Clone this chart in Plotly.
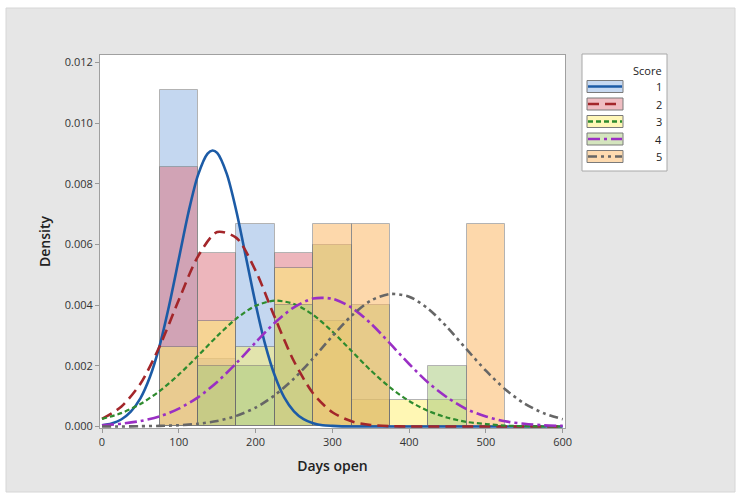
import plotly.graph_objects as go

# ---------------- data ----------------
scores = ["1", "2", "3", "4", "5"]
bin_centers = [100, 150, 200, 250, 300, 350, 400, 450, 500]
bin_width = 50

dens_1 = [0.01111, 0.00222, 0.00667, 0, 0, 0, 0, 0, 0]
dens_2 = [0.00857, 0.00571, 0, 0.00571, 0, 0, 0, 0, 0]
dens_3 = [0.00261, 0.00348, 0.00261, 0.00522, 0.00348, 0.00087, 0.00087, 0.00087, 0]
dens_4 = [0, 0.0020, 0.0020, 0.0040, 0.0060, 0.0040, 0, 0.0020, 0]
dens_5 = [0, 0, 0, 0, 0.00667, 0.00667, 0, 0, 0.00667]

curve_x_1 = [0, 12.5, 25, 37.5, 50, 62.5, 75, 87.5, 100, 112.5, 125, 137.5, 144, 150,
             162.5, 175, 187.5, 200, 212.5, 225, 237.5, 250, 262.5, 275, 287.5, 300,
             325, 400, 500, 600]
curve_1 = [0.00004, 0.0001, 0.00023, 0.00049, 0.00093, 0.00164, 0.00266, 0.0040, 0.00552,
           0.00705, 0.00829, 0.0090, 0.0091, 0.00902, 0.00833, 0.0071, 0.00558, 0.00405,
           0.00271, 0.00168, 0.00095, 0.0005, 0.00024, 0.00011, 0.00004, 0.00002,
           0, 0, 0, 0]

curve_x = [0, 25, 50, 75, 100, 125, 150, 175, 200, 225, 250, 275, 300, 325, 350,
           375, 400, 425, 450, 475, 500, 525, 550, 575, 600]
curve_2 = [0.00025, 0.00065, 0.00141, 0.00264, 0.00417, 0.00561, 0.00641, 0.00622, 0.00514,
           0.0036, 0.00215, 0.00109, 0.00047, 0.00017, 0.00005, 0.00001, 0, 0, 0, 0, 0, 0, 0, 0, 0]
curve_3 = [0.00025, 0.00044, 0.00074, 0.00117, 0.00171, 0.00233, 0.00298, 0.00356, 0.00398,
           0.00415, 0.00404, 0.00368, 0.00313, 0.00249, 0.00185, 0.00129, 0.00084, 0.00051,
           0.00029, 0.00015, 0.00008, 0.00003, 0.00001, 0, 0]
curve_4 = [0.00004, 0.00009, 0.00018, 0.00033, 0.00059, 0.00096, 0.00147, 0.00209, 0.00277,
           0.00342, 0.00393, 0.00422, 0.00421, 0.00392, 0.0034, 0.00274, 0.00206, 0.00144,
           0.00095, 0.00057, 0.00033, 0.00017, 0.00009, 0.00004, 0.00002]
curve_5 = [0, 0, 0.00001, 0.00002, 0.00004, 0.00009, 0.00018, 0.00035, 0.00062, 0.00103,
           0.00158, 0.00225, 0.00298, 0.00365, 0.00415, 0.00437, 0.00428, 0.00388, 0.00326,
           0.00254, 0.00184, 0.00123, 0.00076, 0.00044, 0.00024]

x_ticks = [0, 100, 200, 300, 400, 500, 600]
y_ticks = [0.000, 0.002, 0.004, 0.006, 0.008, 0.010, 0.012]
y_tick_text = ["0.000", "0.002", "0.004", "0.006", "0.008", "0.010", "0.012"]

# ---------------- styles ----------------
fill_colors = ["#8fb4e3", "#dd7480", "#fff070", "#a9cb7d", "#fcb660"]
legend_fill = ["#c7d9f1", "#efbdc2", "#fff7b7", "#d4e5be", "#fddaaf"]
line_colors = ["#1c5ba6", "#a3262a", "#2e8b2e", "#9a2fc4", "#666666"]
line_dash = ["solid", "11px,6px", "5px,3px", "12px,4px,3px,4px", "9px,4px,3px,4px,3px,4px"]
line_width = [2.6, 2.6, 2.2, 2.6, 2.6]

all_dens = [dens_1, dens_2, dens_3, dens_4, dens_5]
all_curve_x = [curve_x_1, curve_x, curve_x, curve_x, curve_x]
all_curves = [curve_1, curve_2, curve_3, curve_4, curve_5]

fig = go.Figure()

for i, s in enumerate(scores):
    xs = [c for c, d in zip(bin_centers, all_dens[i]) if d > 0]
    ys = [d for d in all_dens[i] if d > 0]
    fig.add_trace(go.Bar(
        x=xs, y=ys, width=bin_width, name=s, showlegend=False,
        marker=dict(color=fill_colors[i], opacity=0.52,
                    line=dict(color="#6e6e6e", width=1)),
        hoverinfo="skip"))

for i, s in enumerate(scores):
    fig.add_trace(go.Scatter(
        x=all_curve_x[i], y=all_curves[i], mode="lines", name=s, showlegend=False,
        line=dict(color=line_colors[i], dash=line_dash[i], width=line_width[i],
                  shape="spline", smoothing=0.8),
        hoverinfo="skip"))

# plot area geometry (pixels)
W, H = 741, 500
L, R, T, B = 100, 565, 55, 428
pw, ph = R - L, B - T

def px(x):
    return (x - L) / pw

def py(y):
    return (B - y) / ph

shapes = [
    dict(type="rect", xref="paper", yref="paper", layer="below",
         x0=px(6), x1=px(735), y0=py(492), y1=py(8),
         fillcolor="#e6e6e6", line=dict(color="#d6d6d6", width=1)),
    dict(type="rect", xref="paper", yref="paper", layer="below",
         x0=0, x1=1, y0=0, y1=1, fillcolor="white", line=dict(width=0)),
    dict(type="rect", xref="paper", yref="paper", layer="above",
         x0=px(582), x1=px(667), y0=py(171), y1=py(54),
         fillcolor="white", line=dict(color="#a8a8a8", width=1)),
]
annotations = [
    dict(text="Score", xref="paper", yref="paper", x=px(664), y=py(70),
         xanchor="right", yanchor="middle", showarrow=False,
         font=dict(size=11, color="#222", family="Open Sans")),
]
centers = [86.5, 104, 121.5, 139, 156.5]
for i, s in enumerate(scores):
    cy = centers[i]
    shapes.append(dict(type="rect", xref="paper", yref="paper", layer="above",
                       x0=px(587), x1=px(623), y0=py(cy + 6), y1=py(cy - 6),
                       fillcolor=legend_fill[i], line=dict(color="#7a7a7a", width=1)))
    shapes.append(dict(type="line", xref="paper", yref="paper", layer="above",
                       x0=px(588), x1=px(622), y0=py(cy), y1=py(cy),
                       line=dict(color=line_colors[i], width=2.6, dash=line_dash[i])))
    annotations.append(dict(text=s, xref="paper", yref="paper", x=px(664), y=py(cy),
                            xanchor="right", yanchor="middle", showarrow=False,
                            font=dict(size=11, color="#222", family="Open Sans")))

fig.update_layout(
    width=W, height=H,
    margin=dict(l=L, r=W - R, t=T, b=H - B),
    paper_bgcolor="white", plot_bgcolor="white",
    barmode="overlay", bargap=0,
    font=dict(family="Open Sans", size=11, color="#333"),
    shapes=shapes, annotations=annotations,
    xaxis=dict(range=[-2.6, 603], tickvals=x_ticks, ticks="outside", ticklen=4,
               tickcolor="#999", showgrid=False, zeroline=False,
               showline=True, linecolor="#a0a0a0", mirror=True,
               tickfont=dict(size=11, color="#333"),
               title=dict(text="Days open", font=dict(size=14, color="#222", weight=600),
                          standoff=12)),
    yaxis=dict(range=[-0.00005, 0.01225], tickvals=y_ticks, ticktext=y_tick_text,
               ticks="outside", ticklen=4, tickcolor="#999", showgrid=False,
               zeroline=False, showline=True, linecolor="#a0a0a0", mirror=True,
               tickfont=dict(size=11, color="#333"),
               title=dict(text="Density", font=dict(size=14, color="#222", weight=600),
                          standoff=10)),
)

fig.write_html("out.html")
